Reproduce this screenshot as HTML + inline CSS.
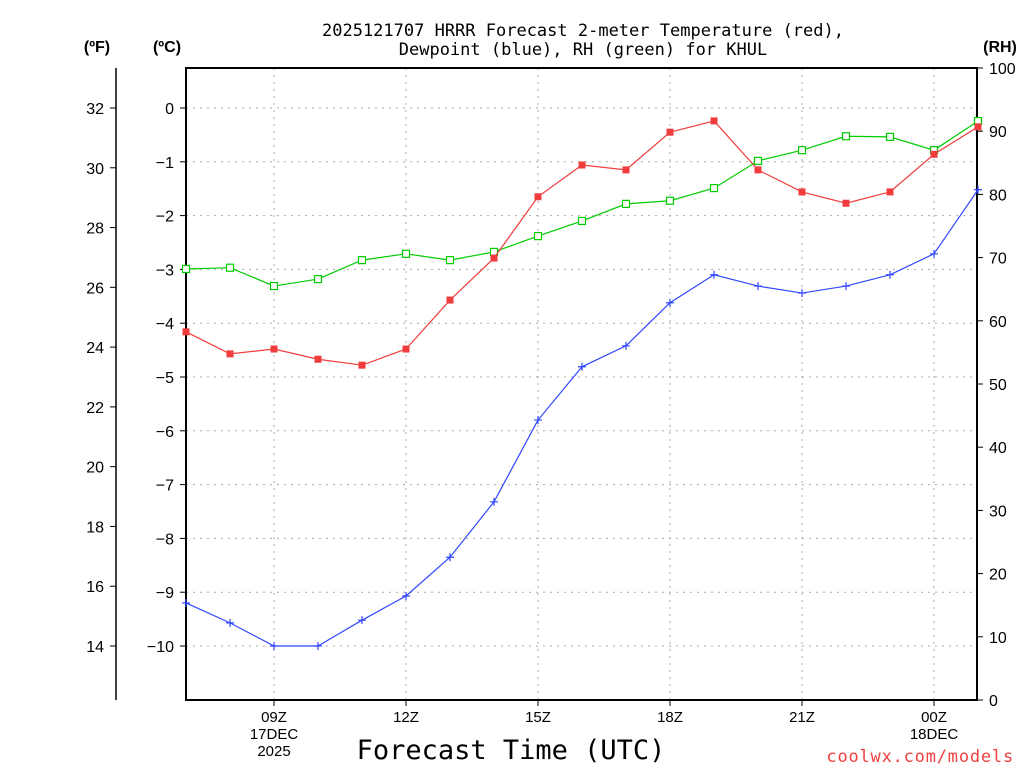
<!DOCTYPE html>
<html><head><meta charset="utf-8"><style>body{margin:0;background:#fff}svg{display:block;font-family:"Liberation Sans","DejaVu Sans",sans-serif}.m{font-family:"DejaVu Sans Mono","Liberation Mono",monospace}</style></head>
<body>
<svg id="c" width="1024" height="768">
<text class="m" x="583" y="36" text-anchor="middle" font-size="17">2025121707 HRRR Forecast 2-meter Temperature (red),</text>
<text class="m" x="583" y="55" text-anchor="middle" font-size="17">Dewpoint (blue), RH (green) for KHUL</text>
<text x="97" y="52" text-anchor="middle" font-size="16" font-weight="bold">(ºF)</text>
<text x="167" y="52" text-anchor="middle" font-size="16" font-weight="bold">(ºC)</text>
<text x="1000" y="52" text-anchor="middle" font-size="16" font-weight="bold">(RH)</text>
<text class="m" x="511" y="759" text-anchor="middle" font-size="27">Forecast Time (UTC)</text>
<text class="m" x="1014" y="762" text-anchor="end" font-size="17" letter-spacing="0.8" fill="#f04040">coolwx.com/models</text>
<g id="g"></g>
</svg>
<script>
const hours=[7,8,9,10,11,12,13,14,15,16,17,18,19,20,21,22,23,24,25];
const tempC=[-4.16,-4.57,-4.48,-4.67,-4.78,-4.48,-3.57,-2.79,-1.65,-1.06,-1.15,-0.45,-0.24,-1.15,-1.56,-1.77,-1.56,-0.86,-0.35];
const dewC=[-9.2,-9.57,-10,-10,-9.52,-9.07,-8.35,-7.32,-5.8,-4.81,-4.42,-3.62,-3.1,-3.31,-3.44,-3.31,-3.1,-2.71,-1.52];
const rh=[68.2,68.4,65.5,66.6,69.6,70.6,69.6,70.9,73.4,75.8,78.5,79.0,81.0,85.3,87.0,89.2,89.1,87.0,91.6];
const cTicks=[0,-1,-2,-3,-4,-5,-6,-7,-8,-9,-10];
const fTicks=[32,30,28,26,24,22,20,18,16,14];
const rhTicks=[0,10,20,30,40,50,60,70,80,90,100];
const xTickHours=[9,12,15,18,21,24];
const xTickLabels=[["09Z","17DEC","2025"],["12Z"],["15Z"],["18Z"],["21Z"],["00Z","18DEC"]];
const L=186,R=977,T=68,B=700;
const xs=h=>L+(h-7)*44;
const yc=c=>108-c*53.8;
const yf=f=>yc((f-32)*5/9);
const yr=r=>B-r*(B-T)/100;
const g=document.getElementById('g');const NS='http://www.w3.org/2000/svg';
function el(t,a,txt){const e=document.createElementNS(NS,t);for(const k in a)e.setAttribute(k,a[k]);if(txt!==undefined)e.textContent=txt;g.appendChild(e);return e;}
cTicks.forEach(c=>{const e=el('line',{x1:L,x2:R,y1:yc(c),y2:yc(c),stroke:'#aaa','stroke-dasharray':'2,5'});


const t=el('line',{x1:L-6,x2:L,y1:yc(c),y2:yc(c),stroke:'#000'});


const l=el('text',{x:L-12,y:yc(c)+6,'text-anchor':'end','font-size':16},c<0?'\u2212'+(-c):''+c);

});
xTickHours.forEach((h,i)=>{const e=el('line',{x1:xs(h),x2:xs(h),y1:T,y2:B,stroke:'#aaa','stroke-dasharray':'2,5'});


const t=el('line',{x1:xs(h),x2:xs(h),y1:B,y2:B+6,stroke:'#000'});


xTickLabels[i].forEach((s,j)=>{const l=el('text',{x:xs(h),y:B+22+j*17,'text-anchor':'middle','font-size':15},s);

});});
fTicks.forEach(f=>{const t=el('line',{x1:110,x2:116,y1:yf(f),y2:yf(f),stroke:'#000'});


const l=el('text',{x:104,y:yf(f)+6,'text-anchor':'end','font-size':16},''+f);

});
rhTicks.forEach(r=>{const t=el('line',{x1:R,x2:R+6,y1:yr(r),y2:yr(r),stroke:'#000'});


const l=el('text',{x:R+12,y:yr(r)+6,'font-size':16},''+r);

});
let a=el('line',{x1:116,x2:116,y1:T,y2:B,stroke:'#000','stroke-width':1.5});


a=el('rect',{x:L,y:T,width:R-L,height:B-T,fill:'none',stroke:'#000','stroke-width':2});


function series(vals,yfn,color,name,marker){
const p=el('polyline',{points:vals.map((v,i)=>xs(hours[i])+','+yfn(v)).join(' '),fill:'none',stroke:color,'stroke-width':1.2});


vals.forEach((v,i)=>{const x=xs(hours[i]),y=yfn(v);let m;
if(marker==='fill')m=el('rect',{x:x-3.5,y:y-3.5,width:7,height:7,fill:color});
else if(marker==='open')m=el('rect',{x:x-3.5,y:y-3.5,width:7,height:7,fill:'#fff',stroke:color,'stroke-width':1.2});
else m=el('path',{d:`M${x-4},${y}H${x+4}M${x},${y-4}V${y+4}`,stroke:color,'stroke-width':1.2});

});}
series(rh,yr,'#00cc00','rh','open');
series(tempC,yc,'#f03c3c','temperature','fill');
series(dewC,yc,'#3048ff','dewpoint','plus');
</script>
</body></html>
